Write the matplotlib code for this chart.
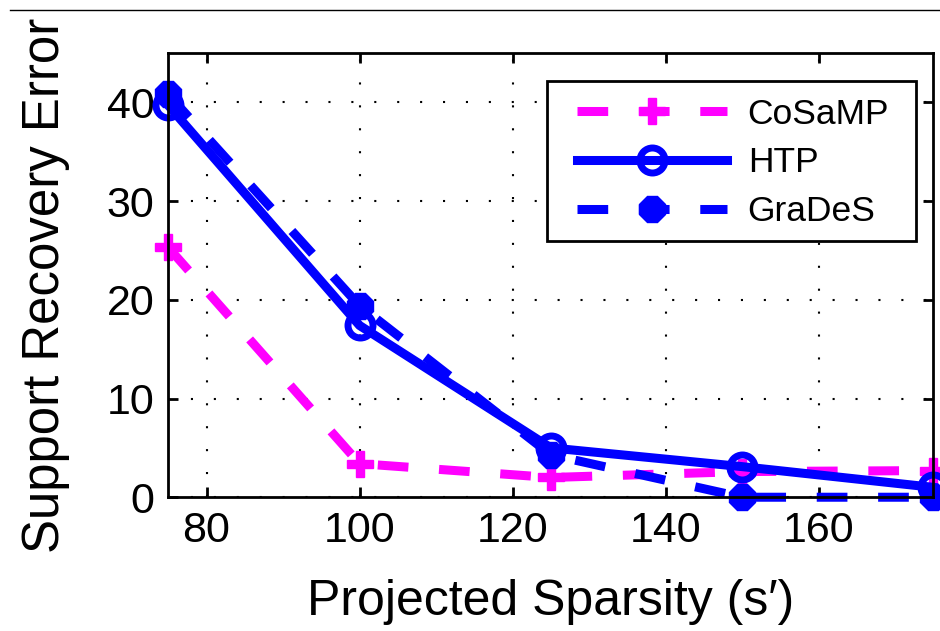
import numpy as np
import matplotlib.pyplot as plt
from matplotlib.lines import Line2D
from matplotlib.patches import Rectangle

plt.rcParams['font.family'] = ['Liberation Sans', 'DejaVu Sans']

# data
sparsity = [75, 100, 125, 150, 175]
cosamp = [25.3, 3.4, 2.0, 2.6, 2.7]
htp = [39.7, 17.4, 5.0, 3.1, 1.0]
grades = [40.8, 19.4, 4.3, 0.0, 0.0]

x_ticks = [80, 100, 120, 140, 160]
y_ticks = [0, 10, 20, 30, 40]

magenta = '#ff00ff'
blue = '#0000ff'
lw = 6.5
dash = (3.4, 3.4)

fig = plt.figure(figsize=(9.4, 6.31), dpi=100)
ax = fig.add_axes([0.179, 0.212, 0.814, 0.704])

#CoSaMP - magenta dashed with thick plus
ax.plot(sparsity, cosamp, color=magenta, lw=lw, dashes=dash, marker='P',
        ms=19, mec=magenta, mfc=magenta, clip_on=False, label='CoSaMP',
        dash_capstyle='butt')
#HTP - solid blue with open circle
ax.plot(sparsity, htp, color=blue, lw=lw, marker='o', ms=18, mew=5,
        mec=blue, mfc='none', clip_on=False, label='HTP')
#GraDeS - dashed blue with filled octagon
ax.plot(sparsity, grades, color=blue, lw=lw, dashes=dash, marker='8',
        ms=20, mec=blue, mfc=blue, clip_on=False, label='GraDeS',
        dash_capstyle='butt')

ax.set_xlim(75, 175)
ax.set_ylim(0, 45)
ax.set_xticks(x_ticks)
ax.set_yticks(y_ticks)

ax.grid(True, color='black', linestyle=(0, (1, 10)), linewidth=1.5)
ax.tick_params(direction='in', length=7, width=2, top=True, right=True,
               labelsize=31, pad=10)
for s in ax.spines.values():
    s.set_linewidth(2)

ax.set_xlabel("Projected Sparsity (s\u2032)", fontsize=36, labelpad=20)
ax.set_ylabel('Support Recovery Error', fontsize=36.7)
ax.yaxis.set_label_coords(-0.128, 0.478)

#legend box drawn separately so the padding matches the original
frame = Rectangle((0.495, 0.577), 0.482, 0.360, transform=ax.transAxes,
                  facecolor='white', edgecolor='black', lw=2,
                  zorder=4.9, clip_on=False)
ax.add_patch(frame)
leg = ax.legend(loc='upper left', bbox_to_anchor=(0.5346, 0.899),
                borderaxespad=0, borderpad=0, fontsize=25.5,
                handlelength=4.24, handletextpad=0.57, labelspacing=0.44,
                frameon=False)
leg.set_zorder(5)

#thin line across the top of the page
fig.add_artist(Line2D([0.011, 1.0], [1 - 10 / 631, 1 - 10 / 631],
                      color='black', lw=1.0))

fig.savefig('out.png', dpi=100)
